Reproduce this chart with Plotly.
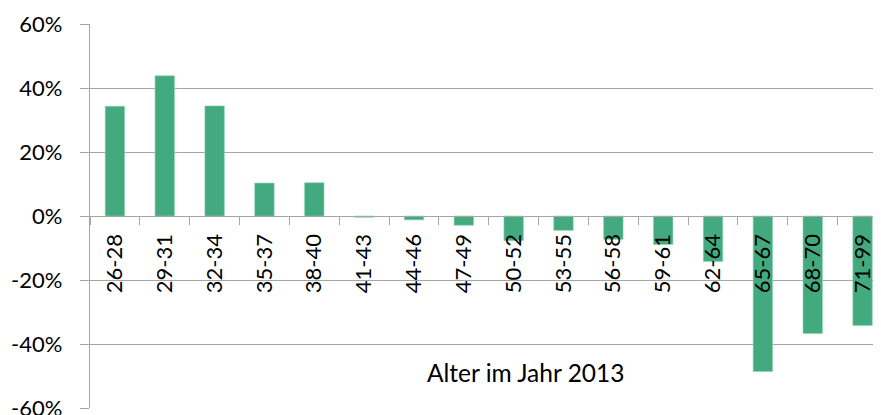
import plotly.graph_objects as go

categories = ["26-28", "29-31", "32-34", "35-37", "38-40", "41-43", "44-46", "47-49",
              "50-52", "53-55", "56-58", "59-61", "62-64", "65-67", "68-70", "71-99"]
values = [34.3, 43.8, 34.4, 10.3, 10.4, -0.4, -1.2, -2.9,
          -7.7, -4.5, -7.3, -8.9, -14.2, -48.6, -36.7, -34.2]
y_tickvals = [-60, -40, -20, 0, 20, 40, 60]
y_ticktext = ["-60%", "-40%", "-20%", "0%", "20%", "40%", "60%"]
x_title = "Alter im Jahr 2013"

FONT = "Lato, 'Open Sans', sans-serif"
GRID = "#A6A6A6"

fig = go.Figure(go.Bar(
    x=categories, y=values,
    marker=dict(color="#43AA80", line=dict(color="#8FD1B4", width=0.6)),
    width=0.39,
))

# the page body has an 8px default margin, so the figure is sized to end at the window edge
fig.update_layout(
    width=873, height=407,
    margin=dict(l=82, r=0, t=16, b=7),
    paper_bgcolor="white", plot_bgcolor="white",
    showlegend=False,
    font=dict(family=FONT, size=22, color="#000000"),
    xaxis=dict(
        type="category",
        range=[-0.5, 15.37],
        anchor="free", position=0.5,
        automargin=False,
        showline=True, linecolor=GRID, linewidth=1.3,
        ticks="outside", tickson="boundaries", ticklen=8, tickcolor=GRID, tickwidth=1.3,
        tickangle=-90,
        tickfont=dict(family=FONT, size=22, color="#000000"),
        showgrid=False, zeroline=False,
        ticklabelstandoff=8,
    ),
    yaxis=dict(
        range=[-60, 60],
        automargin=False,
        tickvals=y_tickvals, ticktext=y_ticktext,
        showline=True, linecolor=GRID, linewidth=1.3,
        ticks="outside", ticklen=9, tickcolor=GRID, tickwidth=1.3,
        showgrid=True, gridcolor=GRID, gridwidth=1.3,
        zeroline=False,
        tickfont=dict(family=FONT, size=22, color="#000000"),
        ticklabelstandoff=13,
        ticklabeloverflow="allow",
    ),
    annotations=[dict(
        x=8.23, y=-49, xref="x", yref="y",
        text=x_title, showarrow=False,
        font=dict(family=FONT, size=24.5, color="#000000"),
    )],
)

fig.write_html("out.html")
